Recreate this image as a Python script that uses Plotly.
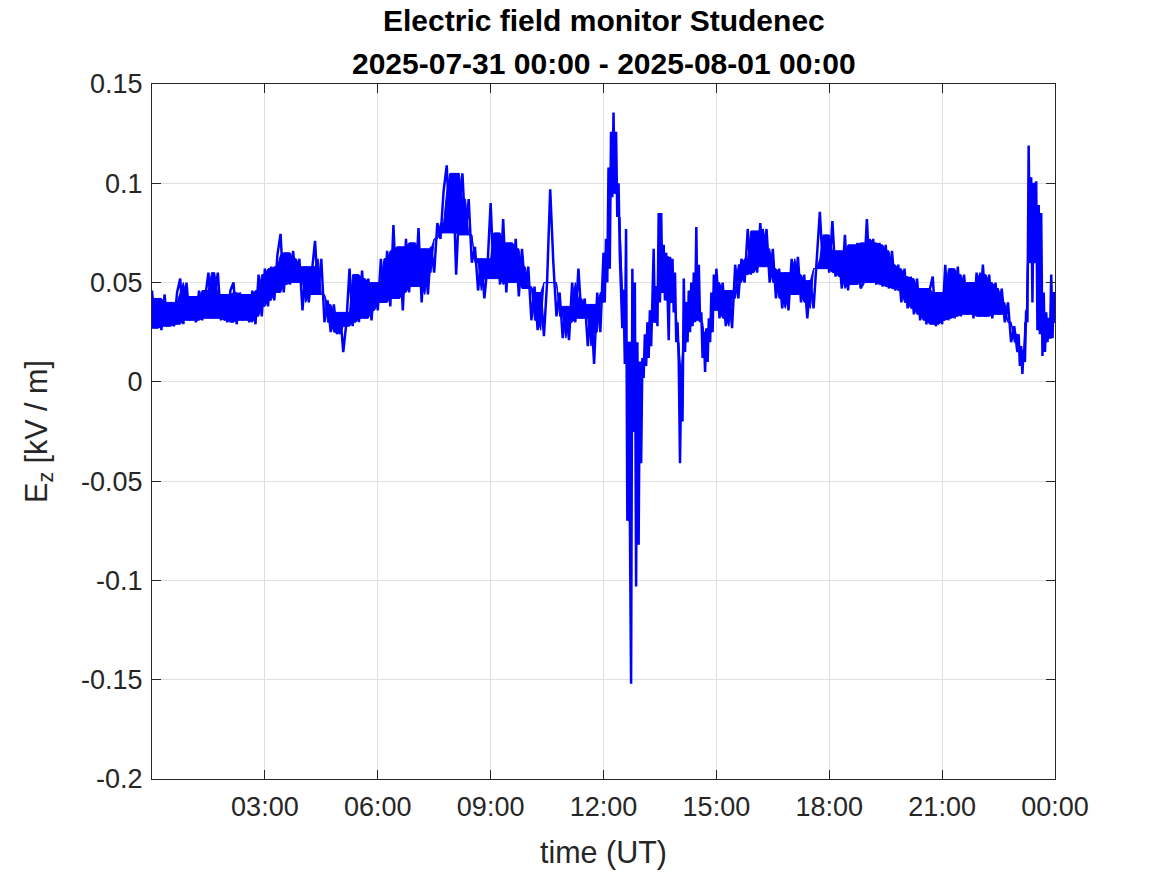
import pandas as pd
import plotly.graph_objects as go

# ---- data (Ez in kV/m) ----
# segment A: 00:00 - 11:55, 5-min step
seg_a_start, seg_a_step = 0, 5
seg_a = [
    0.046, 0.027, 0.042, 0.026, 0.044, 0.028, 0.040, 0.028, 0.045, 0.052, 0.029, 0.050,
    0.031, 0.043, 0.030, 0.046, 0.031, 0.044, 0.055, 0.032, 0.045, 0.055, 0.031, 0.044,
    0.030, 0.046, 0.050, 0.029, 0.045, 0.031, 0.044, 0.030, 0.046, 0.029, 0.054, 0.033,
    0.057, 0.038, 0.058, 0.041, 0.064, 0.0745, 0.045, 0.065, 0.049, 0.066, 0.050, 0.062,
    0.036, 0.058, 0.040, 0.055, 0.071, 0.044, 0.062, 0.030, 0.041, 0.025, 0.039, 0.024,
    0.035, 0.015, 0.030, 0.057, 0.028, 0.054, 0.030, 0.056, 0.032, 0.052, 0.031, 0.050,
    0.036, 0.062, 0.040, 0.066, 0.038, 0.079, 0.042, 0.068, 0.036, 0.072, 0.045, 0.070,
    0.048, 0.0775, 0.040, 0.067, 0.044, 0.068, 0.055, 0.080, 0.072, 0.096, 0.109, 0.075,
    0.105, 0.054, 0.090, 0.105, 0.074, 0.092, 0.060, 0.068, 0.046, 0.062, 0.042, 0.058,
    0.090, 0.052, 0.075, 0.049, 0.082, 0.045, 0.070, 0.050, 0.072, 0.043, 0.067, 0.047,
    0.058, 0.031, 0.048, 0.026, 0.045, 0.023, 0.050, 0.097, 0.060, 0.033, 0.045, 0.022,
    0.038, 0.021, 0.050, 0.030, 0.057, 0.032, 0.042, 0.018, 0.039, 0.009, 0.045, 0.025,
]
# segment B: 12:00 - 14:58, 2-min step (storm period)
seg_b_start, seg_b_step = 720, 2
seg_b = [
    0.065, 0.040, 0.072, 0.050, 0.108, 0.057, 0.126, 0.093, 0.1356, 0.095,
    0.126, 0.083, 0.100, 0.064, 0.047, 0.027, 0.046, 0.009, 0.077, -0.070,
    0.020, -0.080, -0.152, 0.057, -0.025, 0.050, -0.103, 0.020, -0.082, 0.010,
    -0.041, 0.012, 0.002, 0.024, 0.008, 0.030, 0.012, 0.036, 0.018, 0.042,
    0.067, 0.030, 0.048, 0.028, 0.085, 0.040, 0.085, 0.045, 0.069, 0.041,
    0.065, 0.046, 0.021, 0.063, 0.040, 0.062, 0.035, 0.055, 0.020, 0.030,
    0.010, -0.041, 0.005, -0.020, 0.052, 0.015, 0.040, 0.020, 0.046, 0.025,
    0.050, 0.028, 0.055, 0.030, 0.078, 0.031, 0.059, 0.030, 0.035, 0.012,
    0.025, 0.005, 0.027, 0.010, 0.032, 0.020, 0.045, 0.025, 0.054, 0.036,
]
# segment C: 15:00 - 22:55, 5-min step
seg_c_start, seg_c_step = 900, 5
seg_c = [
    0.057, 0.032, 0.050, 0.028, 0.046, 0.027, 0.059, 0.042, 0.062, 0.050, 0.077, 0.054,
    0.076, 0.055, 0.080, 0.058, 0.077, 0.050, 0.067, 0.042, 0.057, 0.037, 0.055, 0.036,
    0.062, 0.044, 0.063, 0.040, 0.054, 0.032, 0.051, 0.037, 0.062, 0.0856, 0.057, 0.074,
    0.055, 0.081, 0.053, 0.066, 0.047, 0.074, 0.046, 0.069, 0.049, 0.070, 0.047, 0.050,
    0.082, 0.050, 0.072, 0.049, 0.070, 0.048, 0.069, 0.047, 0.066, 0.046, 0.059, 0.040,
    0.057, 0.037, 0.053, 0.034, 0.052, 0.031, 0.047, 0.029, 0.046, 0.053, 0.028, 0.045,
    0.029, 0.059, 0.031, 0.057, 0.032, 0.058, 0.033, 0.054, 0.034, 0.050, 0.032, 0.055,
    0.033, 0.059, 0.033, 0.054, 0.032, 0.050, 0.034, 0.047, 0.030, 0.040, 0.020, 0.028,
]
# segment D: 23:00 - 24:00, 2-min step
seg_d_start, seg_d_step = 1380, 2
seg_d = [
    0.015, 0.024, 0.008, 0.018, 0.004, 0.016, 0.010, 0.036, 0.030, 0.119,
    0.060, 0.103, 0.040, 0.100, 0.060, 0.101, 0.026, 0.089, 0.024, 0.085,
    0.013, 0.045, 0.015, 0.035, 0.020, 0.032, 0.022, 0.054, 0.022, 0.045,
    0.030,
]

title_lines = ["Electric field monitor Studenec", "2025-07-31 00:00 - 2025-08-01 00:00"]
x_tick_labels = ["03:00", "06:00", "09:00", "12:00", "15:00", "18:00", "21:00", "00:00"]
x_tick_hours = [3, 6, 9, 12, 15, 18, 21, 24]
y_tick_vals = [-0.2, -0.15, -0.1, -0.05, 0, 0.05, 0.1, 0.15]
y_tick_labels = ["-0.2", "-0.15", "-0.1", "-0.05", "0", "0.05", "0.1", "0.15"]

# ---- build series ----
base = pd.Timestamp("2025-07-31 00:00")
minutes, values = [], []
for start, step, seg in [(seg_a_start, seg_a_step, seg_a), (seg_b_start, seg_b_step, seg_b),
                         (seg_c_start, seg_c_step, seg_c), (seg_d_start, seg_d_step, seg_d)]:
    for i, v in enumerate(seg):
        minutes.append(start + step * i)
        values.append(v)
times = [base + pd.Timedelta(minutes=m) for m in minutes]
tickvals = [base + pd.Timedelta(hours=h) for h in x_tick_hours]

# dense noise core of the recorded signal: envelope of the fast oscillation
s = pd.Series(values)
loc_hi = s.rolling(3, center=True, min_periods=1).max()
loc_lo = s.rolling(3, center=True, min_periods=1).min()
core_hi = loc_hi.rolling(5, center=True, min_periods=1).min()
core_lo = loc_lo.rolling(5, center=True, min_periods=1).max()
core_hi = pd.concat([core_hi, core_lo], axis=1).max(axis=1)

FONT = "Liberation Sans, Arial, Helvetica, sans-serif"
AX = "#262626"
BLUE = "#0000ff"

fig = go.Figure()
fig.add_trace(go.Scatter(x=times + times[::-1],
                         y=list(core_hi) + list(core_lo)[::-1],
                         mode="lines", fill="toself", fillcolor=BLUE,
                         line=dict(color=BLUE, width=1), showlegend=False,
                         hoverinfo="skip"))
fig.add_trace(go.Scatter(x=times, y=values, mode="lines",
                         line=dict(color=BLUE, width=2.5), showlegend=False,
                         hoverinfo="x+y"))

fig.update_layout(
    width=1167, height=875,
    margin=dict(l=152, r=112, t=84, b=96),
    paper_bgcolor="white", plot_bgcolor="white",
    font=dict(family=FONT, size=27, color=AX),
    xaxis=dict(range=[base, base + pd.Timedelta(hours=24)],
               tickvals=tickvals, ticktext=x_tick_labels,
               ticks="inside", ticklen=9, tickcolor=AX, mirror="ticks",
               showline=True, linecolor=AX, linewidth=1,
               showgrid=True, gridcolor="#dfdfdf", gridwidth=1, zeroline=False,
               tickfont=dict(size=27, color=AX), ticklabelstandoff=4,
               title=dict(text="time (UT)", font=dict(size=30.5, color=AX), standoff=20)),
    yaxis=dict(range=[-0.2, 0.15],
               tickvals=y_tick_vals, ticktext=y_tick_labels,
               ticks="inside", ticklen=9, tickcolor=AX, mirror="ticks",
               showline=True, linecolor=AX, linewidth=1,
               showgrid=True, gridcolor="#dfdfdf", gridwidth=1, zeroline=False,
               tickfont=dict(size=27, color=AX), ticklabelstandoff=3,
               title=dict(text="E<sub>z</sub> [kV / m]", font=dict(size=30.5, color=AX), standoff=24)),
    annotations=[
        dict(text="<b>%s</b>" % title_lines[0], x=0.5, xref="paper", y=1 + 64 / 695, yref="paper",
             xanchor="center", yanchor="middle", showarrow=False,
             font=dict(family=FONT, size=30, color="black")),
        dict(text="<b>%s</b>" % title_lines[1], x=0.5, xref="paper", y=1 + 21 / 695, yref="paper",
             xanchor="center", yanchor="middle", showarrow=False,
             font=dict(family=FONT, size=30, color="black")),
    ],
)

fig.write_html("out.html", config={"displayModeBar": False},
               post_script="document.body.style.margin='0px';")
